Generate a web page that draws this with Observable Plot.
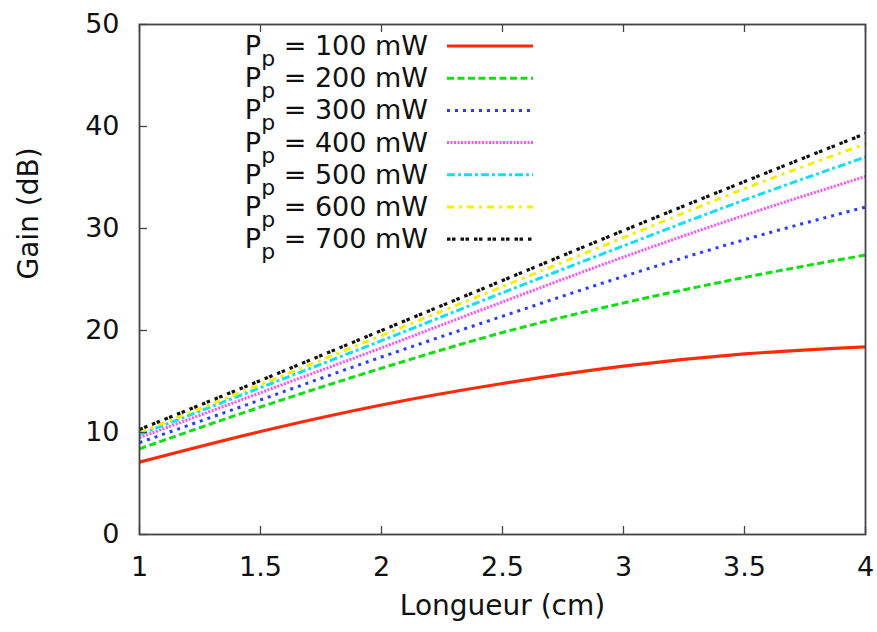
<!DOCTYPE html>
<html>
<head>
<meta charset="utf-8">
<script src="https://cdn.jsdelivr.net/npm/d3@7"></script>
<script src="https://cdn.jsdelivr.net/npm/@observablehq/plot@0.6"></script>
<style>
  html, body { margin: 0; padding: 0; background: white; }
  #chart { width: 877px; height: 632px; }
</style>
</head>
<body>
<div id="chart"></div>
<script>
// ---- data ----
const longueur = [1, 1.5, 2, 2.5, 3, 3.5, 4];
const p100 = [7.1, 10.1, 12.7, 14.8, 16.5, 17.7, 18.4];
const p200 = [8.4, 12.5, 16.3, 19.8, 22.7, 25.2, 27.4];
const p300 = [9.0, 13.2, 17.4, 21.4, 25.3, 28.9, 32.1];
const p400 = [9.5, 13.9, 18.3, 22.8, 27.2, 31.3, 35.1];
const p500 = [9.8, 14.4, 19.0, 23.7, 28.3, 32.8, 37.0];
const p600 = [10.0, 14.7, 19.5, 24.3, 29.1, 33.9, 38.3];
const p700 = [10.3, 15.1, 20.0, 24.9, 29.8, 34.6, 39.3];
const seriesNames = ["100 mW", "200 mW", "300 mW", "400 mW", "500 mW", "600 mW", "700 mW"];
const xTicks = [1, 1.5, 2, 2.5, 3, 3.5, 4];
const yTicks = [0, 10, 20, 30, 40, 50];

// ---- styles ----
const allSeries = [p100, p200, p300, p400, p500, p600, p700];
const colors = ["#ff2a0a", "#10e010", "#2a3aff", "#ff50ff", "#10e0f0", "#f5f000", "#111111"];
const dashes = [null, "7,3.5", "3,5", "2,1.5", "8,3,3,3", "7,5,3,5", "3.5,1.5,3.5,5"];
const widths = [3.2, 3, 3, 3, 3, 3, 3.2];

const lineMarks = allSeries.map((vals, s) =>
  Plot.line(longueur.map((x, i) => ({x, y: vals[i]})), {
    x: "x", y: "y", curve: "monotone-x",
    stroke: colors[s], strokeWidth: widths[s],
    strokeLinecap: "butt", strokeLinejoin: "miter",
    strokeDasharray: dashes[s] || undefined
  })
);

const frameW = 877 - 139 - 12;
const frameH = 632 - 24 - 98;

const chart = Plot.plot({
  width: 877,
  height: 632,
  marginLeft: 139,
  marginRight: 12,
  marginTop: 24,
  marginBottom: 98,
  style: {fontFamily: "DejaVu Sans, sans-serif", fontSize: "27px", color: "#111", background: "white"},
  x: {domain: [1, 4]},
  y: {domain: [0, 50]},
  marks: [
    ...lineMarks,
    Plot.tickX(xTicks, {x: d => d, insetTop: frameH - 8, stroke: "#444", strokeWidth: 1.3}),
    Plot.tickX(xTicks, {x: d => d, insetBottom: frameH - 8, stroke: "#444", strokeWidth: 1.3}),
    Plot.tickY(yTicks, {y: d => d, insetRight: frameW - 8, stroke: "#444", strokeWidth: 1.3}),
    Plot.frame({stroke: "#444", strokeWidth: 1.8}),
    Plot.axisX(xTicks, {tickSize: 0, tickPadding: 22, label: null, fontSize: 27, tickFormat: d => String(d)}),
    Plot.axisY(yTicks, {tickSize: 0, tickPadding: 20, label: null, fontSize: 27, tickFormat: d => String(d)}),
    Plot.text(["Longueur (cm)"], {frameAnchor: "bottom", dy: 80, text: d => d, fontSize: 28, fill: "#111"}),
    Plot.text(["Gain (dB)"], {frameAnchor: "left", dx: -110, rotate: -90, text: d => d, fontSize: 28, fill: "#111"})
  ]
});

// ---- legend (inside the plot, top) ----
const svg = d3.select(chart);
const leg = svg.append("g").attr("font-family", "DejaVu Sans, sans-serif").attr("fill", "#111");
seriesNames.forEach((name, s) => {
  const cy = 46 + s * 32.2;
  const t = leg.append("text")
    .attr("x", 428).attr("y", cy + 9)
    .attr("text-anchor", "end")
    .attr("font-size", 27);
  t.append("tspan").text("P");
  t.append("tspan").attr("dy", 11).attr("font-size", 22).text("p");
  t.append("tspan").attr("dy", -11).text(" = " + name);
  leg.append("line")
    .attr("x1", 447).attr("x2", 533).attr("y1", cy).attr("y2", cy)
    .attr("stroke", colors[s]).attr("stroke-width", widths[s])
    .attr("stroke-dasharray", dashes[s]);
});

document.getElementById("chart").appendChild(chart);
</script>
</body>
</html>
